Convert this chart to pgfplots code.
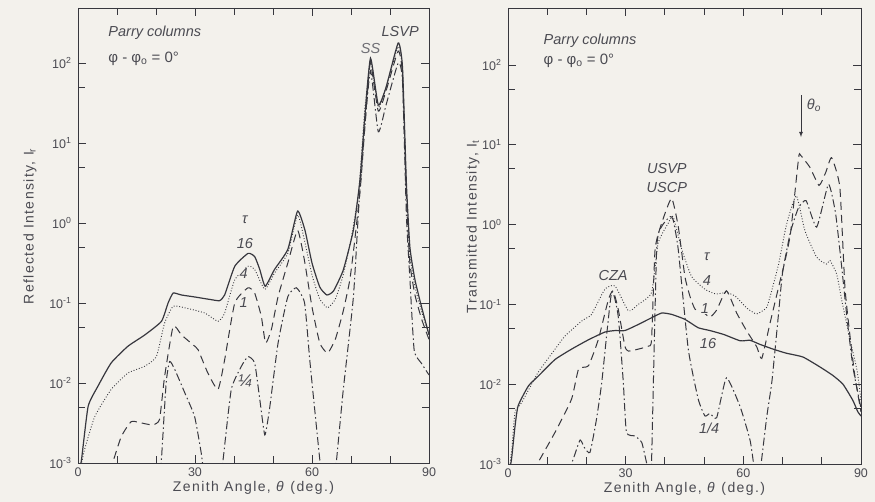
\documentclass[border=0pt]{standalone}
\usepackage{fontspec}
\setmainfont{Liberation Sans}
\usepackage{pgfplots}
\pgfplotsset{compat=1.18}
\definecolor{paper}{RGB}{243,241,236}
\definecolor{ink}{RGB}{55,55,62}
\definecolor{txt}{RGB}{75,75,82}
\tikzset{
  s16/.style={ink, line width=1.2pt, solid, smooth, tension=0.3},
  s4/.style={ink, line width=0.9pt, dash pattern=on 0.9pt off 1.9pt, smooth, tension=0.3},
  s1/.style={ink, line width=1.0pt, dash pattern=on 8pt off 5pt, smooth, tension=0.3},
  sq/.style={ink, line width=1.0pt, dash pattern=on 8pt off 3pt on 1.5pt off 3pt, smooth, tension=0.3},
  lab/.style={font=\fontsize{14.5}{16}\selectfont\itshape, text=txt},
}
\newcommand{\lsfont}{\fontsize{14}{15}\selectfont\addfontfeatures{LetterSpace=10}}
\pgfplotsset{
  every axis/.append style={
    scale only axis, xmin=0, xmax=90, ymin=1e-3, clip mode=individual,
    xtick={0,30,60,90}, minor xtick={10,20,40,50,70,80},
    ytick={1e-3,1e-2,1e-1,1,10,100},
    yticklabels={10\textsuperscript{-3},10\textsuperscript{-2},10\textsuperscript{-1},10\textsuperscript{0},10\textsuperscript{1},10\textsuperscript{2}},
    minor ytick={5e-3,5e-2,5e-1,5,50},
    tick align=inside, major tick length=8pt, minor tick length=7pt,
    every tick/.style={ink, line width=0.8pt},
    axis line style={ink, line width=0.9pt},
    /pgf/number format/assume math mode=true,
    ticklabel style={font=\fontsize{12.5}{13}\selectfont, text=txt},
    xticklabel style={yshift=-1pt},
    yticklabel style={xshift=-3pt},
  },
  every axis x label/.style={at={(axis description cs:0.5,0)}, anchor=center, yshift=-25pt,
      font=\lsfont, text=txt},
}
\begin{document}
\begin{tikzpicture}[x=1pt,y=1pt]
\useasboundingbox (0,0) rectangle (875,502);
\fill[paper] (0,0) rectangle (875,502);

% ---------------- Reflected ----------------
\begin{semilogyaxis}[at={(78pt,39pt)}, anchor=south west, width=351pt, height=455pt, ymax=487,
  xlabel={Zenith Angle, \textit{θ} (deg.)},
  ylabel={Reflected Intensity, I\textsubscript{r}},
  ylabel style={at={(axis description cs:-0.137,0.52)}, rotate=0, anchor=center, font=\lsfont, text=txt}]
% tau = 16
\addplot[s16] coordinates {
(0.3,0.0008) (0.9,0.0011) (2.6,0.0051) (5.1,0.0091) (8.5,0.0178) (12.8,0.0288) (17.1,0.0398)
(21.4,0.059) (23.1,0.100) (24.4,0.133) (26.5,0.126) (29.9,0.119) (34.2,0.110) (36.3,0.107)
(37.6,0.126) (40.2,0.288) (43.6,0.417) (45.3,0.380) (46.6,0.263) (48.0,0.162) (50.4,0.263)
(53.8,0.468) (56.3,1.41) (58.2,0.81) (60,0.316) (62,0.158) (63.8,0.126) (65.5,0.141)
(68,0.257) (70.6,0.81) (72.3,3.47) (73.5,20) (75,115) (77,29.9) (79,50) (82.1,178)
(83.2,89) (84.2,3.16) (85.1,0.5) (86.4,0.195) (88.1,0.089) (90,0.040)};
% tau = 4
\addplot[s4] coordinates {
(0.5,0.0008) (1.7,0.00148) (4.3,0.0038) (8.5,0.0083) (12.8,0.0133) (17.1,0.0162) (20.1,0.0214)
(22.2,0.056) (24.4,0.091) (27.4,0.087) (32.5,0.075) (35.9,0.059) (37.6,0.075) (40.2,0.195)
(43.6,0.288) (45.3,0.263) (47.9,0.148) (50.4,0.237) (53.8,0.42) (56.3,1.26) (58,0.63)
(60,0.224) (62,0.112) (64,0.087) (66,0.112) (68,0.224) (70,0.63) (72,2.5) (73.5,25)
(75,105) (77,28) (79,50) (82.1,160) (83.2,80) (84.2,2.5) (85.1,0.4) (86.4,0.16) (88.1,0.079) (90,0.040)};
% tau = 1
\addplot[s1] coordinates {
(8,0.0008) (9,0.00105) (11.1,0.00214) (13.7,0.0033) (17.1,0.0031) (19.2,0.0030) (20.9,0.0035)
(22.2,0.012) (24.4,0.051) (26.5,0.040) (29.5,0.030) (30.8,0.026) (33.3,0.0133) (35.9,0.0083)
(37.6,0.0195) (40.2,0.100) (43.6,0.155) (45.3,0.133) (47,0.068) (48.1,0.0316) (49.6,0.047)
(51.3,0.12) (53.8,0.316) (56.3,0.81) (58,0.355) (60,0.089) (62,0.0316) (64,0.0237)
(66,0.0355) (68,0.079) (69.7,0.195) (71,0.63) (72.5,3.16) (74,32) (75,100) (77,25) (79,45)
(82.1,141) (83.2,71) (84.2,2.0) (85.1,0.316) (86.4,0.126) (88.1,0.063) (90,0.035)};
% tau = 1/4
\addplot[sq] coordinates {
(21,0.0008) (21.4,0.00112) (22.6,0.010) (23.5,0.0186) (24.8,0.0148) (27.4,0.0075) (29.9,0.0038)
(31.6,0.00133) (32.3,0.0007)};
\addplot[sq] coordinates {
(36.6,0.0007) (37.2,0.0011) (39.3,0.0083) (41.9,0.0162) (43.6,0.0214) (45.3,0.0178) (46.6,0.0063)
(47.9,0.00224) (49.1,0.0047) (51.3,0.0316) (53.8,0.12) (56,0.155) (58.1,0.100) (59.5,0.0178)
(62,0.0011) (62.6,0.0007)};
\addplot[sq] coordinates {
(65.8,0.0007) (66.3,0.0011) (68,0.0081) (70.6,0.117) (72,1.6) (73.5,15) (75,80) (77,13.8)
(79,30) (82.1,100) (83.2,60) (84.2,1.26) (85.1,0.2) (86.2,0.0257) (88,0.0178) (90,0.0126)};
\node[lab, anchor=west] at (axis cs:6.9,237) {Parry columns};
\node[lab, anchor=west, font=\fontsize{15}{16}\selectfont] at (axis cs:6.9,112) {φ - φ\textsubscript{o} = 0°};
\node[lab, text=txt!80] at (axis cs:75,150) {SS};
\node[lab] at (axis cs:82.6,250) {LSVP};
\node[lab] at (axis cs:42.8,1.1) {τ};
\node[lab, fill=paper, inner sep=0.5pt] at (axis cs:42.8,0.56) {16};
\node[lab, fill=paper, inner sep=0.5pt] at (axis cs:42.5,0.237) {4};
\node[lab, fill=paper, inner sep=0.5pt] at (axis cs:42.5,0.102) {1};
\node[lab, fill=paper, inner sep=0.5pt, font=\fontsize{17}{18}\selectfont\itshape] at (axis cs:42.8,0.0105) {¼};
\end{semilogyaxis}

% ---------------- Transmitted ----------------
\begin{semilogyaxis}[at={(508pt,38pt)}, anchor=south west, width=353pt, height=456pt, ymax=518,
  xlabel={Zenith Angle, \textit{θ} (deg.)},
  ylabel={Transmitted Intensity, I\textsubscript{t}},
  ylabel style={at={(axis description cs:-0.099,0.52)}, rotate=0, anchor=center, font=\lsfont, text=txt}]
% tau = 16
\addplot[s16] coordinates {
(0.3,0.0008) (0.9,0.00115) (1.8,0.0030) (2.6,0.0054) (5.2,0.0095) (7.7,0.0126) (12,0.0204)
(16.2,0.0275) (20.5,0.036) (24.7,0.045) (27.3,0.047) (29.8,0.047) (33.2,0.056) (36.6,0.068)
(39.2,0.078) (41.7,0.075) (45.1,0.065) (48.5,0.051) (51.5,0.047) (55,0.042) (59.2,0.035)
(61.7,0.0355) (64.2,0.0316) (67.6,0.0275) (70.9,0.0245) (75.2,0.0219) (79.4,0.0166)
(82.8,0.0129) (85.4,0.0100) (87.9,0.0063) (89.2,0.0045) (90,0.0040)};
% tau = 4
\addplot[s4] coordinates {
(0.3,0.0008) (1.0,0.0016) (1.8,0.0045) (3.5,0.0059) (7.7,0.0141) (12,0.0275) (14.5,0.040)
(18.8,0.062) (21.3,0.075) (24.7,0.155) (27.3,0.17) (30.7,0.083) (33.2,0.100) (36.6,0.141)
(38.3,0.59) (40.9,1.05) (42.1,1.26) (44.3,0.49) (46.8,0.224) (50.2,0.155) (53,0.135)
(55.7,0.141) (58,0.126) (61,0.089) (63.4,0.076) (65.9,0.091) (67,0.135) (69,0.32) (71,1.0)
(73.5,2.3) (75.7,0.84) (78.7,0.39) (81.2,0.32) (82.1,0.355) (83.8,0.24) (85.1,0.112)
(87,0.040) (89,0.0148) (90,0.0063)};
% tau = 1
\addplot[s1] coordinates {
(6.5,0.0008) (7.7,0.00105) (12,0.0025) (16.2,0.0065) (18,0.0155) (20.5,0.017) (23,0.036)
(25.6,0.115) (26.8,0.148) (28.1,0.087) (29.8,0.030) (30.7,0.026) (33.2,0.0275) (35.8,0.030)
(36.6,0.036) (37.5,0.49) (39.2,1.05) (41.7,2.14) (43.4,0.95) (45.1,0.224) (46.4,0.126)
(47.7,0.087) (50,0.078) (51.5,0.069) (53.2,0.085) (55.7,0.148) (58.3,0.078) (60.8,0.047)
(63.4,0.0295) (64.7,0.021) (66.8,0.058) (69.4,0.20) (70.3,0.30) (72,0.76) (74.1,6.9)
(74.6,7.4) (77,5.2) (79.3,3.1) (81,4.5) (82.5,6.9) (84.6,2.95) (85.9,0.166) (87.2,0.04)
(88.5,0.012) (90,0.0045)};
% tau = 1/4
\addplot[sq] coordinates {
(15.5,0.0008) (17,0.0013) (18.4,0.0020) (19.5,0.0016) (20.9,0.0014) (22.5,0.0035) (23.9,0.0105)
(26.4,0.141) (28.1,0.071) (29.4,0.0105) (30.2,0.0025) (32.4,0.00224) (34.1,0.00186)
(35.3,0.00105) (35.8,0.0008)};
\addplot[sq] coordinates {
(36.3,0.0008) (36.6,0.00105) (37.9,0.49) (39.2,0.95) (41.3,1.26) (42.1,1.15) (43.4,0.49)
(45.96,0.0275) (48.5,0.0065) (50.2,0.0040) (51.5,0.0043) (53.2,0.0038) (55.7,0.012)
(59.2,0.0052) (61.7,0.0020) (62.6,0.00102) (63.0,0.0007)};
\addplot[sq] coordinates {
(64.2,0.0007) (64.6,0.00107) (66,0.004) (67.3,0.011) (69,0.079) (70,0.25) (72,0.8) (74,1.6)
(76,2.0) (78.7,0.93) (81.7,3.2) (83.5,1.4) (85,0.32) (86.5,0.063) (88,0.0158) (90,0.005)};
\node[lab, anchor=west] at (axis cs:8.2,200) {Parry columns};
\node[lab, anchor=west, font=\fontsize{15}{16}\selectfont] at (axis cs:8.2,112) {φ - φ\textsubscript{o} = 0°};
\node[lab] at (axis cs:78,31) {θ\textsubscript{o}};
\draw[ink, line width=0.8pt, -latex] (axis cs:74.7,42) -- (axis cs:74.7,12.5);
\node[lab] at (axis cs:40.5,5.0) {USVP};
\node[lab] at (axis cs:40.5,2.9) {USCP};
\node[lab] at (axis cs:26.8,0.23) {CZA};
\node[lab] at (axis cs:50.7,0.39) {τ};
\node[lab, fill=paper, inner sep=0.5pt] at (axis cs:50.7,0.2) {4};
\node[lab, fill=paper, inner sep=0.5pt] at (axis cs:50.2,0.089) {1};
\node[lab, fill=paper, inner sep=0.5pt] at (axis cs:51,0.032) {16};
\node[lab, fill=paper, inner sep=0.5pt] at (axis cs:51.3,0.0028) {1/4};
\end{semilogyaxis}
\end{tikzpicture}
\end{document}
